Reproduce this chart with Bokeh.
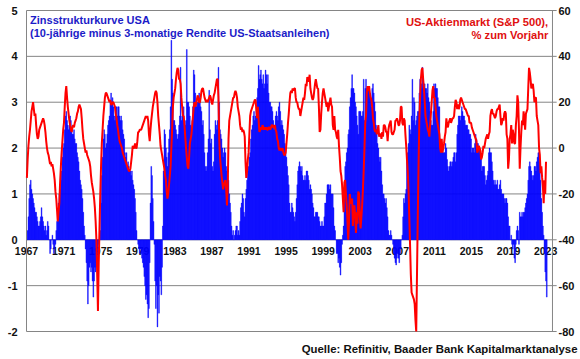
from bokeh.plotting import figure
from bokeh.models import Range1d, Label
from bokeh.core.properties import value
from bokeh.embed import file_html
from bokeh.resources import INLINE

# ---------------- data (monthly, from Jan 1967) ----------------
spread_1967_1969 = [
    0.0, 0.2, 0.5, 0.9, 1.2, 1.3, 1.1, 1.0, 0.9, 0.8, 0.7, 0.6,
    0.6, 0.5, 0.4, 0.3, 0.3, 0.4, 0.5, 0.7, 0.5, 0.4, 0.3, 0.2,
    0.3, 0.1, 0.2, 0.4, 0.3, 0.0, -0.3, -0.2, 0.0, 0.1, -0.1, -0.3]
spread_1970s = [
    -0.2, -0.1, 0.2, 0.4, 0.6, 0.8, 1.0, 1.1, 1.3, 1.5, 1.8, 2.0,
    2.1, 2.4, 2.7, 2.8, 2.6, 2.5, 2.4, 2.5, 2.7, 2.6, 2.4, 2.3,
    2.3, 2.4, 2.2, 2.1, 2.1, 1.9, 1.8, 1.7, 1.5, 1.3, 1.2, 1.1,
    0.9, 0.6, 0.3, 0.1, -0.2, -0.5, -0.9, -1.4, -1.0, -0.6, -0.5, -0.7,
    -0.6, -0.9, -1.25, -0.9, -0.6, -0.7, -0.5, -0.4, -0.3, -0.1, 0.0, 0.2,
    0.8, 1.4, 1.8, 2.2, 2.4, 2.3, 2.0, 2.1, 2.3, 2.5, 2.6, 2.7,
    3.0, 3.2, 3.0, 3.1, 2.9, 2.7, 2.6, 2.9, 2.9, 2.7, 2.9, 2.9,
    2.7, 2.6, 2.7, 2.6, 2.4, 2.3, 2.2, 1.9, 1.8, 1.9, 1.6, 1.7,
    1.6, 1.5, 1.5, 1.4, 1.5, 1.3, 1.2, 1.1, 0.9, 0.6, 0.2, 0.0,
    -0.1, -0.2, -0.3, -0.2, -0.3, -0.4, -0.5, -0.6, -0.8, -1.0, -1.3, -1.2]
spread_1980s = [
    -1.4, -1.7, -1.5, -0.5, 0.8, 1.6, 1.4, 0.9, 0.4, -0.1, -0.9, -1.5,
    -1.0, -1.9, -1.2, -1.6, -0.8, -0.9, -1.2, -0.6, 0.3, 1.5, 2.4, 2.3,
    2.0, 1.8, 1.6, 1.9, 2.2, 2.4, 2.9, 4.35, 3.5, 3.2, 2.6, 2.6,
    2.5, 2.4, 2.3, 2.2, 2.3, 2.5, 2.7, 3.76, 2.6, 2.7, 2.8, 2.9,
    2.6, 2.5, 2.6, 4.15, 3.0, 3.0, 2.9, 2.7, 2.5, 2.4, 2.6, 2.9,
    3.7, 3.6, 3.2, 3.0, 2.9, 3.0, 3.1, 3.2, 3.0, 2.9, 2.8, 2.5,
    2.6, 2.3, 1.9, 1.6, 1.5, 1.6, 1.9, 2.2, 3.26, 2.4, 2.1, 2.2,
    1.6, 1.5, 1.7, 2.3, 2.6, 2.5, 2.4, 2.6, 3.76, 3.0, 2.4, 2.3,
    2.2, 2.0, 1.8, 1.9, 2.0, 1.9, 1.6, 1.5, 1.4, 1.3, 1.0, 0.8,
    0.6, 0.3, 0.1, 0.2, 0.0, 0.1, 0.2, 0.3, 0.3, 0.1, 0.2, 0.1]
spread_1990s = [
    0.4, 0.7, 0.8, 1.0, 0.9, 0.6, 0.5, 0.9, 1.1, 1.3, 1.5, 1.6,
    1.8, 1.9, 2.2, 2.4, 2.5, 2.7, 2.8, 2.6, 2.7, 2.9, 3.1, 3.3,
    3.8, 3.5, 3.6, 3.7, 3.5, 3.4, 3.6, 3.3, 3.4, 3.7, 3.6, 3.4,
    3.6, 3.2, 3.0, 3.0, 2.9, 2.9, 2.8, 2.6, 2.4, 2.5, 2.7, 2.8,
    2.7, 2.6, 2.9, 3.0, 2.8, 2.5, 2.6, 2.5, 2.4, 2.3, 2.1, 2.0,
    1.8, 1.6, 1.4, 1.2, 0.8, 0.6, 0.6, 0.8, 0.7, 0.6, 0.5, 0.4,
    0.6, 0.9, 1.2, 1.5, 1.6, 1.7, 1.6, 1.5, 1.6, 1.4, 1.3, 1.3,
    1.4, 1.3, 1.5, 1.5, 1.4, 1.3, 1.1, 1.2, 1.1, 1.0, 0.8, 0.7,
    0.5, 0.5, 0.6, 0.6, 0.6, 0.5, 0.5, 0.4, 0.3, 0.3, 0.4, 0.3,
    0.3, 0.5, 0.8, 0.8, 1.0, 1.2, 1.2, 1.2, 1.1, 1.2, 1.0, 1.0]
spread_2000s = [
    1.0, 0.7, 0.3, 0.2, 0.0, -0.3, -0.3, -0.5, -0.4, -0.6, -0.77, -0.5,
    -0.1, 0.1, 0.3, 0.9, 1.6, 1.7, 1.9, 2.0, 2.3, 2.4, 2.9, 3.1,
    3.3, 3.6, 3.3, 3.3, 3.2, 3.0, 2.9, 2.7, 2.5, 2.3, 2.8, 2.8,
    2.8, 2.7, 2.7, 2.8, 3.5, 2.6, 3.3, 3.5, 3.3, 3.3, 3.3, 3.3,
    3.2, 3.1, 2.9, 3.3, 3.4, 3.2, 3.0, 2.8, 2.5, 2.4, 2.1, 2.0,
    1.8, 1.7, 1.8, 1.5, 1.2, 1.0, 1.0, 0.9, 0.8, 0.9, 0.7, 0.5,
    0.2, 0.1, 0.1, 0.2, 0.1, 0.0, -0.1, -0.3, -0.4, -0.5, -0.55, -0.4,
    -0.3, -0.4, -0.5, -0.3, -0.2, 0.0, 0.1, 0.5, 0.9, 0.8, 1.0, 1.1,
    1.8, 1.9, 2.1, 2.5, 2.4, 2.3, 2.7, 3.5, 2.6, 3.1, 3.0, 2.5,
    2.6, 2.7, 2.8, 2.8, 3.2, 3.5, 3.3, 3.4, 3.76, 3.3, 3.2, 3.4]
spread_2010s = [
    3.3, 3.3, 3.2, 3.4, 3.1, 3.0, 2.8, 2.6, 2.5, 2.5, 2.8, 3.4,
    3.3, 3.4, 3.3, 3.3, 3.1, 2.9, 2.9, 2.2, 2.0, 2.1, 2.0, 1.9,
    1.9, 1.9, 2.1, 2.0, 1.75, 1.6, 1.5, 1.6, 1.7, 1.7, 1.6, 1.7,
    1.8, 1.9, 1.9, 1.7, 1.9, 2.3, 2.5, 2.7, 2.7, 2.6, 2.7, 2.9,
    2.8, 2.7, 2.7, 2.6, 2.5, 2.5, 2.5, 2.4, 2.4, 2.3, 2.3, 2.2,
    1.9, 2.0, 2.0, 1.9, 2.1, 2.3, 2.2, 2.1, 2.1, 2.0, 2.0, 1.9,
    1.8, 1.5, 1.6, 1.6, 1.6, 1.4, 1.2, 1.3, 1.4, 1.5, 1.9, 2.0,
    1.9, 1.9, 1.7, 1.5, 1.3, 1.2, 1.3, 1.2, 1.2, 1.3, 1.1, 1.1,
    1.2, 1.3, 1.1, 1.0, 1.0, 1.0, 0.9, 0.8, 0.9, 0.9, 0.8, 0.5,
    0.3, 0.3, 0.0, 0.1, -0.1, -0.2, -0.1, -0.4, -0.5, -0.1, 0.2, 0.3]
spread_2020_2023 = [
    0.2, -0.1, 0.6, 0.5, 0.5, 0.6, 0.5, 0.6, 0.6, 0.7, 0.8, 0.9,
    1.0, 1.3, 1.6, 1.7, 1.6, 1.5, 1.4, 1.3, 1.4, 1.6, 1.6, 1.5,
    1.7, 1.8, 1.9, 1.9, 1.7, 1.3, 0.9, 0.6, 0.3, 0.1, -0.3, -0.7,
    -0.9, -1.25]

sp500_1967_1969 = [
    -13, -5, 1, 5, 8, 12, 16, 18, 20, 17, 14, 15,
    10, 6, 4, 5, 8, 9, 10, 11, 12, 13, 12, 10,
    7, 3, 0, -2, -3, -5, -7, -6, -8, -7, -9, -11]
sp500_1970s = [
    -14, -19, -22, -27, -32, -28, -24, -15, -8, -2, 3, 8,
    11, 18, 24, 27, 22, 18, 15, 12, 10, 8, 7, 9,
    10, 9, 11, 12, 13, 15, 16, 18, 19, 18, 17, 13,
    8, 4, 2, 0, -2, -1, -3, -4, -5, -6, -8, -12,
    -15, -17, -19, -22, -26, -32, -40, -55, -71, -50, -35, -20,
    -8, 2, 8, 14, 18, 22, 24, 24, 23, 22, 21, 20,
    21, 19, 19, 20, 20, 19, 18, 15, 13, 10, 8, 5,
    3, 2, 1, 0, -2, -3, -4, -5, -6, -7, -8, -9,
    -10, -10, -9, -6, -3, 1, 0, 0, 2, 0, 0, 3,
    7, 7, 8, 8, 8, 9, 10, 11, 12, 13, 14, 13]
sp500_1980s = [
    14, 12, 6, 3, 8, 12, 15, 18, 20, 22, 24, 25,
    24, 20, 14, 10, 6, 1, -1, -3, -5, -7, -9, -12,
    -14, -19, -22, -20, -16, -12, -8, 0, 8, 18, 22, 24,
    26, 30, 33, 35, 34, 30, 30, 28, 22, 18, 14, 14,
    10, 5, 0, -4, -8, -9, -4, 2, 4, 6, 10, 14,
    18, 20, 18, 19, 21, 23, 22, 20, 20, 22, 25, 26,
    26, 24, 22, 21, 20, 21, 20, 21, 22, 23, 22, 20,
    19, 21, 23, 24, 26, 28, 30, 30, 22, 4, -4, -8,
    -12, -15, -18, -16, -15, -14, -18, -25, -17, 4, 12, 14,
    16, 18, 20, 22, 22, 24, 25, 24, 22, 18, 16, 14]
sp500_1990s = [
    10, 8, 9, 7, 8, 7, 5, -6, -13, -10, -5, -2,
    6, 14, 16, 17, 18, 19, 20, 21, 21, 17, 13, 18,
    12, 7, 8, 9, 8, 10, 9, 8, 9, 8, 9, 8,
    8, 9, 9, 8, 9, 10, 10, 9, 9, 10, 8, 7,
    4, 3, 0, -1, 0, -1, -1, 0, -2, -3, -3, -2,
    2, 6, 11, 15, 20, 24, 25, 24, 26, 25, 26, 26,
    22, 20, 20, 18, 17, 17, 14, 16, 18, 20, 22, 21,
    24, 28, 27, 31, 30, 29, 32, 26, 24, 22, 21, 22,
    25, 28, 30, 28, 26, 26, 18, 7, 8, 15, 20, 24,
    26, 24, 22, 20, 18, 20, 16, 18, 20, 22, 19, 18]
sp500_2000s = [
    10, 8, 14, 8, 7, 5, 4, 8, 1, -4, -10, -12,
    -16, -22, -28, -15, -14, -20, -25, -32, -40, -32, -20, -24,
    -24, -22, -34, -26, -25, -30, -37, -28, -33, -19, -20, -30,
    -35, -30, -25, -18, -10, 0, 11, 14, 24, 27, 25, 27,
    24, 22, 21, 18, 13, 11, 8, 7, 8, 6, 8, 10,
    5, 6, 6, 4, 7, 5, 10, 10, 9, 7, 7, 3,
    8, 10, 11, 12, 7, 6, 6, 7, 8, 12, 12, 13,
    12, 10, 10, 12, 18, 18, 11, 10, 13, 12, 6, 1,
    -5, -10, -18, -30, -42, -55, -63, -64, -65, -66, -68, -75,
    -80, -55, -30, -8, 12, 22, 30, 34, 35, 30, 26, 20]
sp500_2010s = [
    14, 12, 10, 8, 7, 5, 10, 15, 20, 25, 27, 22,
    22, 18, 14, 12, 10, 8, 6, 0, -2, 4, -2, 0,
    2, 5, 7, 13, 10, 9, 11, 12, 13, 11, 12, 13,
    13, 14, 18, 21, 20, 17, 19, 17, 18, 21, 22, 21,
    20, 19, 18, 17, 17, 16, 15, 14, 14, 11, 11, 11,
    9, 8, 7, 6, 5, 4, 3, -2, -1, 1, 0, -1,
    -5, -4, -2, 1, 0, 2, 4, 5, 6, 4, 6, 7,
    14, 16, 17, 15, 15, 14, 13, 14, 16, 17, 17, 18,
    19, 14, 10, 11, 13, 12, 15, 16, 15, 6, 4, -9,
    -5, 4, 6, 10, 2, 8, 6, 2, 2, 10, 14, 23]
sp500_2020_2023 = [
    20, 8, -9, 0, 7, 12, 10, 16, 12, 8, 15, 16,
    17, 26, 35, 33, 30, 26, 27, 28, 25, 20, 22, 22,
    14, 12, 10, 0, -3, -11, -8, -13, -17, -24, -14, -20,
    -6]

start_year = 1967
year_ticks = [1967, 1971, 1975, 1979, 1983, 1987, 1991, 1995, 1999, 2003,
              2007, 2011, 2015, 2019, 2023]
left_ticks = [-2, -1, 0, 1, 2, 3, 4, 5]
right_ticks = [-80, -60, -40, -20, 0, 20, 40, 60]

title_left_1 = "Zinsstrukturkurve USA"
title_left_2 = "(10-jährige minus 3-monatige Rendite US-Staatsanleihen)"
title_right_1 = "US-Aktienmarkt (S&P 500),"
title_right_2 = "% zum Vorjahr"
source_text = "Quelle: Refinitiv, Baader Bank Kapitalmarktanalyse"

spread = (spread_1967_1969 + spread_1970s + spread_1980s + spread_1990s
          + spread_2000s + spread_2010s + spread_2020_2023)
sp500 = (sp500_1967_1969 + sp500_1970s + sp500_1980s + sp500_1990s
         + sp500_2000s + sp500_2010s + sp500_2020_2023)
x_spread = [start_year + (i + 0.5) / 12 for i in range(len(spread))]
x_sp500 = [start_year + (i + 0.5) / 12 for i in range(len(sp500))]

# ---------------- layout (the frame fills the whole canvas) ----------------
W, H = 580, 359
PX_YEAR = 9.27            # pixels per year
AX_LEFT_PX = 26           # canvas px of the left axis line
X_AXIS_END = 2023.74      # right axis line (data)
TOP_PX, BOT_PX = 10, 331  # canvas px of the top / bottom gridline
L_MIN, L_MAX = left_ticks[0], left_ticks[-1]
R_MIN, R_MAX = right_ticks[0], right_ticks[-1]
px_unit = (BOT_PX - TOP_PX) / (L_MAX - L_MIN)

x0 = start_year - AX_LEFT_PX / PX_YEAR
x1 = start_year + (W - AX_LEFT_PX) / PX_YEAR
y1 = L_MAX + TOP_PX / px_unit
y0 = L_MIN - (H - BOT_PX) / px_unit
r_scale = (R_MAX - R_MIN) / (L_MAX - L_MIN)
r1 = R_MIN + (y1 - L_MIN) * r_scale
r0 = R_MIN + (y0 - L_MIN) * r_scale

FONT = "Liberation Sans"
GRID = "#858585"
TXT = "#111111"

p = figure(width=W, height=H, output_backend="svg", toolbar_location=None,
           x_range=Range1d(x0, x1), y_range=Range1d(y0, y1),
           min_border=0, title=None)
p.extra_y_ranges = {"sp": Range1d(r0, r1)}
p.outline_line_color = None
p.background_fill_color = "white"
p.border_fill_color = "white"
p.xaxis.visible = False
p.yaxis.visible = False
p.xgrid.visible = False
p.ygrid.visible = False

# gridlines (from the left tick values)
n_l = len(left_ticks)
p.segment(x0=[start_year] * n_l, x1=[X_AXIS_END + 0.45] * n_l,
          y0=left_ticks, y1=left_ticks, line_color=GRID, line_width=1)

# year labels sit on the zero line, beneath the data
p.text(x=year_ticks, y=[0] * len(year_ticks), text=[str(y) for y in year_ticks],
       y_offset=7, text_align="center", text_baseline="top",
       text_font=value(FONT), text_font_style="bold", text_font_size="10.5px",
       text_color=TXT)

# data
p.vbar(x=x_spread, top=spread, bottom=0, width=1 / 12,
       fill_color="#0000FF", line_color="#0000FF", line_width=0.4)

# axis lines
p.segment(x0=[start_year, X_AXIS_END], x1=[start_year, X_AXIS_END],
          y0=[L_MIN, L_MIN], y1=[L_MAX, L_MAX], line_color=GRID, line_width=1)

p.line(x_sp500, sp500, y_range_name="sp", line_color="#FF0000", line_width=2)

# tick labels
p.text(x=[start_year] * n_l, y=left_ticks, text=[str(v) for v in left_ticks],
       x_offset=-9, text_align="right", text_baseline="middle",
       text_font=value(FONT), text_font_style="bold", text_font_size="11px",
       text_color=TXT)
p.text(x=[X_AXIS_END] * len(right_ticks), y=right_ticks,
       text=[str(v) for v in right_ticks], y_range_name="sp",
       x_offset=6, text_align="left", text_baseline="middle",
       text_font=value(FONT), text_font_style="bold", text_font_size="11px",
       text_color=TXT)

# titles
for txt, yv in ((title_left_1, 4.80), (title_left_2, 4.50)):
    p.add_layout(Label(x=start_year + 0.38, y=yv, text=txt, text_font=FONT,
                       text_font_style="bold", text_font_size="11px",
                       text_color="#1c1cc8", text_baseline="middle"))
for txt, yv in ((title_right_1, 4.74), (title_right_2, 4.46)):
    p.add_layout(Label(x=2023.3, y=yv, text=txt, text_font=FONT,
                       text_font_style="bold", text_font_size="11.2px",
                       text_color="#e01010", text_baseline="middle",
                       text_align="right"))

p.add_layout(Label(x=W - 3, y=5, x_units="screen", y_units="screen",
                   text=source_text, text_font=FONT, text_font_style="bold",
                   text_font_size="11.4px", text_color=TXT,
                   text_align="right", text_baseline="bottom"))

open("out.html", "w").write(file_html(p, INLINE))
